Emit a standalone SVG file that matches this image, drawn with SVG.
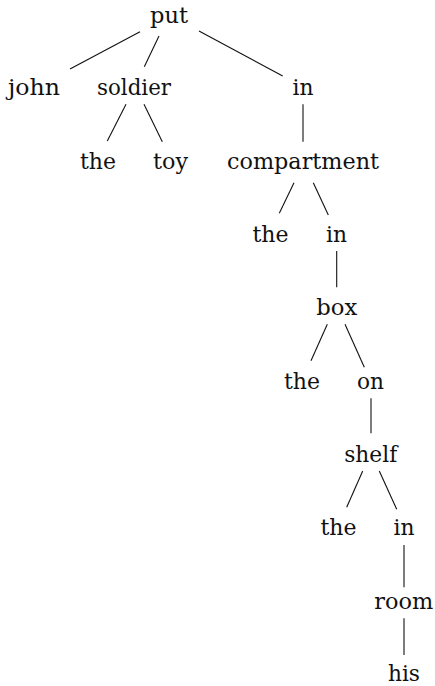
<svg xmlns="http://www.w3.org/2000/svg" width="435" height="686" viewBox="0 0 435 686">
<style>
text{font-family:"DejaVu Serif","Liberation Serif",serif;font-size:23px;fill:#111;text-anchor:middle}
line{stroke:#111;stroke-width:1.1}
</style>
<rect width="435" height="686" fill="#fff"/>
<g id="connectors">
<line x1="140" y1="31.7" x2="70" y2="69"/>
<line x1="159" y1="36" x2="144.3" y2="66.7"/>
<line x1="199" y1="31" x2="282.7" y2="76"/>
<line x1="126" y1="104.3" x2="107.3" y2="141"/>
<line x1="144" y1="104.3" x2="162.3" y2="141.7"/>
<line x1="303" y1="104.3" x2="303" y2="141.7"/>
<line x1="294" y1="182.7" x2="279.3" y2="213.3"/>
<line x1="313.3" y1="182.7" x2="328.3" y2="215"/>
<line x1="336.7" y1="251" x2="336.7" y2="287.3"/>
<line x1="327.3" y1="324.3" x2="311" y2="360.7"/>
<line x1="345" y1="324.3" x2="364.3" y2="367.3"/>
<line x1="371" y1="398.3" x2="371" y2="433.3"/>
<line x1="362.7" y1="471" x2="346.7" y2="507.3"/>
<line x1="379.3" y1="471" x2="396.7" y2="509.3"/>
<line x1="404" y1="545" x2="404" y2="587.3"/>
<line x1="404" y1="618.3" x2="404" y2="655"/>
</g>
<g id="n-put"><text x="169" y="22.5" textLength="38" lengthAdjust="spacingAndGlyphs">put</text></g>
<g id="n-john"><text x="34" y="95.3" textLength="52" lengthAdjust="spacingAndGlyphs">john</text></g>
<g id="n-soldier"><text x="134" y="95.3" textLength="74" lengthAdjust="spacingAndGlyphs">soldier</text></g>
<g id="n-in1"><text x="303" y="95.3" textLength="21" lengthAdjust="spacingAndGlyphs">in</text></g>
<g id="n-the1"><text x="98" y="168.6" textLength="36" lengthAdjust="spacingAndGlyphs">the</text></g>
<g id="n-toy"><text x="170.5" y="168.6" textLength="35" lengthAdjust="spacingAndGlyphs">toy</text></g>
<g id="n-compartment"><text x="303" y="168.6" textLength="152" lengthAdjust="spacingAndGlyphs">compartment</text></g>
<g id="n-the2"><text x="270.5" y="242" textLength="36" lengthAdjust="spacingAndGlyphs">the</text></g>
<g id="n-in2"><text x="336.5" y="242" textLength="21" lengthAdjust="spacingAndGlyphs">in</text></g>
<g id="n-box"><text x="336.7" y="315" textLength="41" lengthAdjust="spacingAndGlyphs">box</text></g>
<g id="n-the3"><text x="302" y="388.6" textLength="36" lengthAdjust="spacingAndGlyphs">the</text></g>
<g id="n-on"><text x="370.5" y="388.6" textLength="27" lengthAdjust="spacingAndGlyphs">on</text></g>
<g id="n-shelf"><text x="370.7" y="462" textLength="53" lengthAdjust="spacingAndGlyphs">shelf</text></g>
<g id="n-the4"><text x="338.5" y="535" textLength="36" lengthAdjust="spacingAndGlyphs">the</text></g>
<g id="n-in3"><text x="404" y="535" textLength="21" lengthAdjust="spacingAndGlyphs">in</text></g>
<g id="n-room"><text x="403.7" y="608.6" textLength="59" lengthAdjust="spacingAndGlyphs">room</text></g>
<g id="n-his"><text x="404" y="680.5" textLength="32" lengthAdjust="spacingAndGlyphs">his</text></g>
</svg>
